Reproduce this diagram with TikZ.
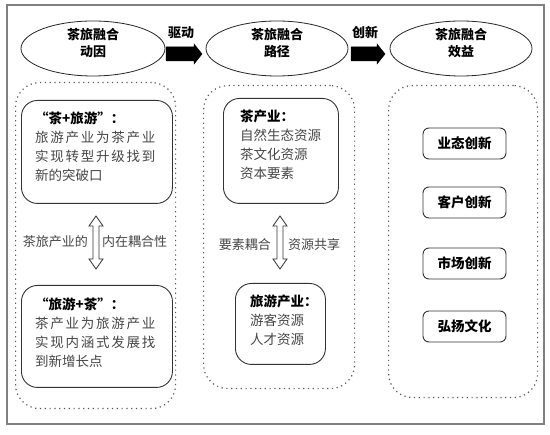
\documentclass[tikz,border=0pt]{standalone}
\usepackage{fontspec}
\setmainfont{Noto Sans CJK SC}
\usetikzlibrary{shapes.geometric}
\newcommand{\spreadline}[1]{{\addfontfeature{LetterSpace=13}#1}}
\begin{document}
\begin{tikzpicture}[x=1pt,y=-1pt,
  frame/.style={draw=black!50, line width=1.8pt},
  oval/.style={ellipse, draw=black!85, line width=0.8pt, minimum height=55pt, inner sep=0pt},
  ovaltext/.style={font=\bfseries\fontsize{13}{17}\selectfont, align=center, inner sep=0pt},
  container/.style={draw=black!65, line width=1.2pt, dash pattern=on 1.2pt off 3.6pt, rounded corners=24pt, anchor=north west, inner sep=0pt},
  bigbox/.style={draw=black!80, line width=0.9pt, rounded corners=16pt, anchor=north west, inner sep=0pt},
  smallbox/.style={draw=black!80, line width=0.9pt, rounded corners=6pt, minimum width=83pt, minimum height=31pt, inner sep=0pt, font=\bfseries\fontsize{13.5}{15}\selectfont},
  body/.style={text=black!72, font=\fontsize{13.5}{19}\selectfont, align=left, inner sep=0pt, anchor=west},
  lbl/.style={text=black!72, font=\fontsize{13}{15}\selectfont, inner sep=0pt},
  arrlbl/.style={font=\bfseries\fontsize{13}{15}\selectfont, inner sep=0pt},
  blockarrow/.style={fill=black, draw=black, line width=0.5pt},
  dblarrow/.style={fill=white, draw=black!80, line width=0.8pt}
]
\useasboundingbox (0,0) rectangle (550,435);
\fill[white] (0,0) rectangle (550,435);
\draw[frame] (7,5) rectangle (544,424);

% ellipses
\node[oval, minimum width=144pt] (e1) at (93,48.5) {};
\node[oval, minimum width=142pt] (e2) at (277,48.5) {};
\node[oval, minimum width=142pt] (e3) at (461,48.5) {};
\node[ovaltext] (t1) at (93,43.5) {茶旅融合\\动因};
\node[ovaltext] (t2) at (277,43.5) {茶旅融合\\路径};
\node[ovaltext] (t3) at (461,43.5) {茶旅融合\\效益};

% block arrows
\coordinate (ba1) at (166,54);
\coordinate (ba2) at (351,54);
\draw[blockarrow] (ba1) ++(0,-7) -- ++(28,0) -- ++(0,-3) -- ++(8,10) -- ++(-8,10) -- ++(0,-3) -- ++(-28,0) -- cycle;
\draw[blockarrow] (ba2) ++(0,-7) -- ++(26,0) -- ++(0,-3) -- ++(8,10) -- ++(-8,10) -- ++(0,-3) -- ++(-26,0) -- cycle;
\node[arrlbl] (l1) at (181,33) {驱动};
\node[arrlbl] (l2) at (365,33) {创新};

% containers
\node[container, minimum width=160pt, minimum height=326pt] (c1) at (15,82) {};
\node[container, minimum width=151pt, minimum height=303pt] (c2) at (203,85) {};
\node[container, minimum width=149pt, minimum height=312pt] (c3) at (388,85) {};

% left column
\node[bigbox, minimum width=151pt, minimum height=103pt] (ba) at (21,100) {};
\node[body] (ta) at (35,146.5) {\textcolor{black}{\bfseries “茶+旅游”：}\\
  \spreadline{旅游产业为茶产业}\\
  \spreadline{实现转型升级找到}\\
  新的突破口};
\node[bigbox, minimum width=151pt, minimum height=102pt] (bb) at (21,285) {};
\node[body] (tb) at (35,333) {\textcolor{black}{\bfseries “旅游+茶”：}\\
  \spreadline{茶产业为旅游产业}\\
  \spreadline{实现内涵式发展找}\\
  到新增长点};

\coordinate (d1) at (96,242.5);
\draw[dblarrow] (d1) ++(0,-26.5) -- ++(7,10) -- ++(-4,0) -- ++(0,33) -- ++(4,0) -- ++(-7,10) -- ++(-7,-10) -- ++(4,0) -- ++(0,-33) -- ++(-4,0) -- cycle;
\node[lbl, anchor=east] (la) at (88,242) {茶旅产业的};
\node[lbl, anchor=west] (lb) at (102,242) {内在耦合性};

% middle column
\node[bigbox, minimum width=115pt, minimum height=105pt] (bt) at (223,98) {};
\node[body] (tt) at (240,144.5) {\textcolor{black}{\bfseries 茶产业：}\\
  自然生态资源\\
  茶文化资源\\
  资本要素};
\node[bigbox, minimum width=90pt, minimum height=81pt] (bl) at (235,283) {};
\node[body] (tl) at (250,320) {\textcolor{black}{\bfseries 旅游产业：}\\
  游客资源\\
  人才资源};

\coordinate (d2) at (280,242.5);
\draw[dblarrow] (d2) ++(0,-26.5) -- ++(7,10) -- ++(-4,0) -- ++(0,33) -- ++(4,0) -- ++(-7,10) -- ++(-7,-10) -- ++(4,0) -- ++(0,-33) -- ++(-4,0) -- cycle;
\node[lbl, anchor=east] (lc) at (271,245) {要素耦合};
\node[lbl, anchor=west] (ld) at (288,245) {资源共享};

% right column
\node[smallbox] (r1) at (464.5,143.5) {业态创新};
\node[smallbox] (r2) at (464.5,202.5) {客户创新};
\node[smallbox] (r3) at (464.5,263.5) {市场创新};
\node[smallbox] (r4) at (464.5,326.5) {弘扬文化};
\end{tikzpicture}
\end{document}
